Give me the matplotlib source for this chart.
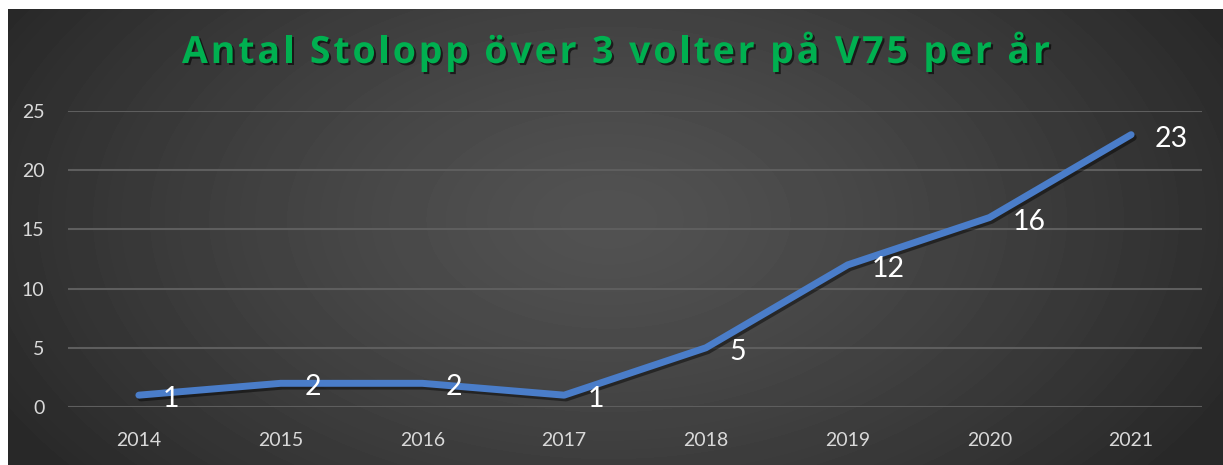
import matplotlib.pyplot as plt
import matplotlib.patheffects as pe
import numpy as np

years = ['2014', '2015', '2016', '2017', '2018', '2019', '2020', '2021']
races = [1, 2, 2, 1, 5, 12, 16, 23]
title = 'Antal Stolopp över 3 volter på V75 per år'

W, H = 1223, 465
fig = plt.figure(figsize=(W / 100, H / 100), dpi=100)
fig.patch.set_facecolor('white')

# dark radial gradient background (the white strip at top/left is part of the picture)
bg = fig.add_axes([8 / W, 0, (W - 8) / W, (H - 9) / H])
bg.set_axis_off()
yy, xx = np.mgrid[0:456, 0:1215]
d = np.sqrt(((xx - 600) / 700.0) ** 2 + ((yy - 210) / 420.0) ** 2)
d = np.clip(d, 0, 1)
light, dark = 0x52 / 255, 0x28 / 255
img = light + (dark - light) * d ** 1.3
bg.imshow(img, cmap='gray', vmin=0, vmax=1, aspect='auto', interpolation='bilinear')

ax = fig.add_axes([68 / W, (H - 407) / H, (1202 - 68) / W, (407 - 111) / H])
ax.patch.set_alpha(0)
pos = np.arange(len(years))

line, = ax.plot(pos, races, color='#4a7dc9', linewidth=5, solid_capstyle='round',
                solid_joinstyle='round', zorder=3)
line.set_path_effects([pe.SimpleLineShadow(offset=(1.5, -2), alpha=0.45), pe.Normal()])

for x, v in zip(pos, races):
    ax.annotate(str(v), (x, v), xytext=(17, -3), textcoords='offset points',
                ha='left', va='center', color='white', fontsize=20.5, family='Lato', zorder=4)

ax.set_xlim(-0.5, len(years) - 0.5)
ax.set_ylim(0, 25)
ax.set_yticks(range(0, 26, 5))
ax.set_xticks(pos)
ax.set_xticklabels(years)
ax.grid(axis='y', color='#5e5e5e', linewidth=1.5)
ax.set_axisbelow(True)
ax.tick_params(length=0, labelcolor='#d9d9d9', labelsize=14)
ax.tick_params(axis='y', pad=17)
ax.tick_params(axis='x', pad=18)
for lab in ax.get_xticklabels() + ax.get_yticklabels():
    lab.set_family('Lato')
for spine in ax.spines.values():
    spine.set_visible(False)

# title with letter spacing, drawn character by character
tstyle = dict(fontsize=27, fontweight='bold', family='Open Sans', color='#00b050',
              path_effects=[pe.withSimplePatchShadow(offset=(1.5, -1.5),
                                                     shadow_rgbFace='black', alpha=0.6)])
renderer = fig.canvas.get_renderer()


def text_width(s):
    t = fig.text(0, 0, s + '|', **tstyle)
    bar = fig.text(0, 0, '|', **tstyle)
    w = t.get_window_extent(renderer).width - bar.get_window_extent(renderer).width
    t.remove()
    bar.remove()
    return w


target_left, target_right = 182, 1050
base = text_width(title)
spacing = (target_right - target_left - base) / (len(title) - 1)
for i, ch in enumerate(title):
    if ch == ' ':
        continue
    x0 = target_left + text_width(title[:i]) + spacing * i if i else target_left
    fig.text(x0 / W, (H - 63) / H, ch, ha='left', va='baseline', **tstyle)

fig.savefig('out.png', dpi=100)
